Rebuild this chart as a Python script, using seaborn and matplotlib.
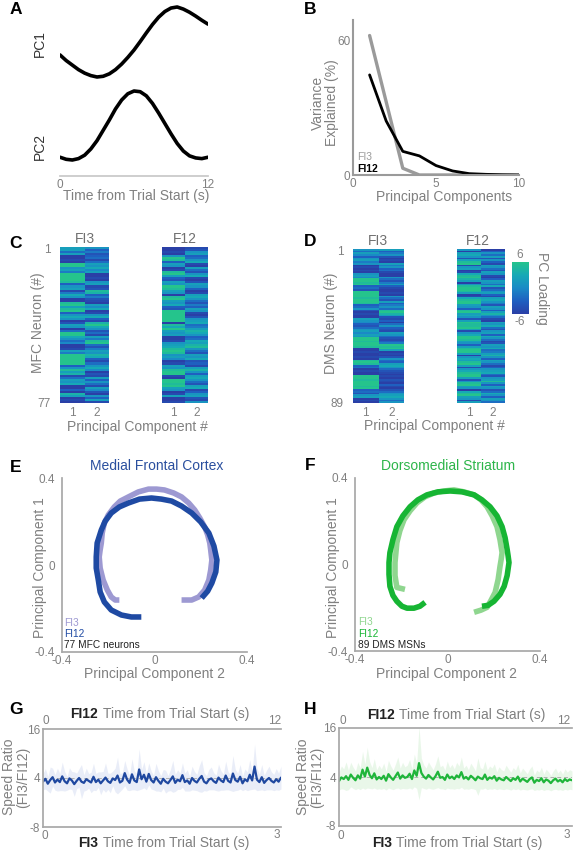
import numpy as np
import pandas as pd
import matplotlib
matplotlib.use("Agg")
import matplotlib.pyplot as plt
import seaborn as sns
from matplotlib.colors import LinearSegmentedColormap

# ---------------- DATA ----------------
# Panel A: PC time courses (0..12 s, every 0.5 s)
pc_time = [0, 0.5, 1, 1.5, 2, 2.5, 3, 3.5, 4, 4.5, 5, 5.5, 6, 6.5, 7, 7.5, 8, 8.5,
           9, 9.5, 10, 10.5, 11, 11.5, 12]
pc1_curve = [-0.37, -0.53, -0.66, -0.79, -0.89, -0.96, -1.0, -0.98, -0.91, -0.79,
             -0.63, -0.44, -0.23, 0.01, 0.26, 0.50, 0.71, 0.87, 0.97, 1.0, 0.94,
             0.85, 0.74, 0.62, 0.51]
pc2_curve = [0.04, 0.01, 0.0, 0.02, 0.07, 0.16, 0.28, 0.43, 0.58, 0.74, 0.87, 0.96,
             1.0, 0.99, 0.93, 0.82, 0.68, 0.53, 0.38, 0.24, 0.13, 0.06, 0.03, 0.02, 0.04]

# Panel B: variance explained
components = [1, 2, 3, 4, 5, 6, 7, 8, 9, 10]
var_fi3 = [62, 32.5, 3, 0, 0, 0, 0, 0, 0, 0]
var_fi12 = [44.5, 24, 10.5, 8.5, 4.2, 1.8, 0.6, 0.3, 0.1, 0.0]

# Panel C: MFC loadings (77 neurons)
mfc_fi3_pc1 = [2, 2, -2, 2, -6, -6, -5, -6, 6, 6, 1,
               2, -1, 6, 6, 6, 6, 5, -3, 1, 2, -5,
               -1, 3, 1, -6, -6, 5, 6, 2, 5, 6, -3,
               1, 3, 1, -6, -4, 2, 1, -6, -2, 6, 6,
               3, 1, -2, 0, -6, -6, -5, 2, -1, 6, 6,
               6, 6, 6, -3, 1, 5, 2, 4, -5, -2, 2,
               1, 3, -6, -6, -3, -6, 4, 2, -6, -5, -6]
mfc_fi3_pc2 = [1, -3, -1, -4, -3, -2, -5, -2, 2, 1, 3,
               0, 2, -6, -6, -5, -6, 1, 2, -5, -4, 5,
               4, -3, -1, -4, -5, -6, 2, 0, 3, -6, -5,
               1, 3, -3, -5, 4, 6, 3, 1, -4, -2, -5,
               2, -1, 5, 6, -2, -4, -1, 2, 1, 4, 3,
               -3, -5, -2, 1, 3, 0, -6, -4, -5, 2, -3,
               1, -2, -5, 2, 0, -4, -6, 1, -3, 2, -5]
mfc_fi12_pc1 = [-6, -6, -5, -6, 1, 6, 5, -3, 2, 1, -6,
                -5, 5, 6, 2, -3, -4, 2, 1, 6, 5, 2,
                1, -6, 5, 6, 2, 1, 3, -3, -4, 6, 6,
                6, 6, 6, 6, -6, 5, 3, 6, 2, 1, 2,
                -6, -6, -5, 1, 2, 3, 5, 6, 5, 1, 2,
                0, -6, -5, 2, 1, 5, 6, 6, -5, -6, 6,
                6, 5, 6, 2, 1, -6, -5, 2, -6, -6, -5]
mfc_fi12_pc2 = [-5, -4, 1, 2, -3, -2, 1, 3, -5, -6, 2,
                -2, -4, 1, 3, -5, -6, -4, 2, 1, -3, -6,
                -5, 2, 3, 1, -2, -4, -1, -3, 2, 1, -5,
                -6, -4, 1, 2, 3, -2, -1, 2, 4, 3, 1,
                -3, -2, 3, 2, 4, 5, 1, -2, -4, 2, 1,
                3, -4, -3, -5, 2, 4, 1, -3, 2, 3, 1,
                -2, -4, 2, 3, -5, -3, 1, 2, -4, -5, 1]

# Panel D: DMS loadings (89 neurons)
dms_fi3_pc1 = [1, -2, 2, 0, -3, 1, 2, -1, 1, -6, -5,
               -6, -5, -6, 1, 2, 0, 6, 6, 5, 6, -3,
               -2, -4, 6, 6, 6, 6, 5, 6, 6, 5, -3,
               -2, 1, -4, -6, -5, -6, -6, 2, 1, 0, -3,
               -4, -2, 1, 2, 0, 2, 1, 6, 6, 5, 6,
               6, 5, -6, -6, -5, -6, -6, -5, -6, 5, 6,
               5, -3, -2, -6, -5, -6, -6, 6, 6, 5, 6,
               6, 6, 5, 6, -3, -2, -4, 1, 2, -6, -5,
               -6]
dms_fi3_pc2 = [2, -3, -1, 1, -4, -6, -5, -6, 2, -1, 1,
               -3, -2, -5, -6, -6, 1, -2, -4, -1, 2, -3,
               -5, -6, -6, -5, -6, 1, -2, -4, 2, -3, -1,
               1, -2, 5, 6, 4, 2, -4, -5, -3, -6, -2,
               1, -3, -4, -5, 2, 1, -2, -4, -5, -3, -1,
               6, 5, 6, 2, -6, -5, -6, -4, 1, -2, -3,
               2, 3, 1, -2, -4, -5, -6, -5, -6, -4, -5,
               -6, -3, -5, -6, -4, -2, 1, 2, 3, 1, -2,
               1]
dms_fi12_pc1 = [1, -6, 2, 3, 1, -4, 2, 5, 6, -5, 1,
                2, -6, -5, 3, 5, 6, 4, 2, -6, 1, 5,
                6, 6, 5, 2, -6, -5, 3, 5, 6, 6, 2,
                1, -3, 5, 6, 2, 3, 1, -4, 2, 6, 5,
                5, 6, 2, -5, 1, 3, 6, 6, 5, 2, 1,
                -3, 2, 5, 6, 6, 2, -6, 1, 3, 2, 5,
                6, 2, -5, 1, 3, 5, 6, 6, 2, -4, 1,
                5, 6, 2, 1, -6, 3, 5, 6, 2, 1, -5,
                2]
dms_fi12_pc2 = [-6, -3, 1, -2, 2, -4, 1, -3, -5, 2, 1,
                -2, -4, 2, 1, -5, -6, -3, 2, 1, -2, 3,
                -4, -2, 1, 2, -3, -5, 2, 3, 1, -1, -4,
                2, 1, -3, 2, 4, 1, -2, -5, -6, 2, 1,
                3, -2, -4, 1, 2, -3, 3, 1, -2, -5, -4,
                2, 1, 3, -2, -1, 2, 4, 1, -3, 2, 1,
                -2, -5, -3, 1, 2, 3, -2, -4, 1, 2, 5,
                1, -3, 2, 1, -4, -2, 3, 1, -3, 2, 1,
                -2]

# Panel E: MFC trajectories (PC2 on x, PC1 on y)
e_fi3_pc2 = [0.117, 0.161, 0.191, 0.217, 0.235, 0.243, 0.248, 0.243, 0.239, 0.230,
             0.217, 0.196, 0.174, 0.148, 0.117, 0.083, 0.043, 0.009, -0.026, -0.070,
             -0.113, -0.148, -0.174, -0.200, -0.217, -0.226, -0.230, -0.235, -0.239,
             -0.235, -0.222, -0.204, -0.187, -0.170, -0.152]
e_fi3_pc1 = [-0.161, -0.161, -0.147, -0.115, -0.069, -0.023, 0.023, 0.069, 0.101, 0.138,
             0.175, 0.216, 0.253, 0.285, 0.313, 0.331, 0.345, 0.349, 0.349, 0.336,
             0.313, 0.294, 0.267, 0.230, 0.193, 0.147, 0.101, 0.069, 0.037,
             -0.014, -0.069, -0.115, -0.147, -0.161, -0.161]
e_fi12_pc2 = [-0.057, -0.100, -0.143, -0.187, -0.217, -0.235, -0.243, -0.252, -0.252,
              -0.248, -0.230, -0.213, -0.187, -0.152, -0.113, -0.065, -0.013, 0.030,
              0.074, 0.117, 0.161, 0.200, 0.235, 0.257, 0.270, 0.265, 0.248, 0.230, 0.204]
e_fi12_pc1 = [-0.239, -0.239, -0.230, -0.207, -0.170, -0.124, -0.069, -0.014, 0.037,
              0.101, 0.161, 0.202, 0.239, 0.267, 0.285, 0.303, 0.308, 0.303,
              0.294, 0.271, 0.239, 0.198, 0.147, 0.087, 0.023, -0.032, -0.083, -0.120, -0.152]

# Panel F: DMS trajectories
f_fi3_pc2 = [-0.184, -0.219, -0.227, -0.227, -0.223, -0.219, -0.206, -0.188, -0.162,
             -0.132, -0.097, -0.058, -0.015, 0.028, 0.071, 0.115, 0.145, 0.171, 0.193,
             0.214, 0.227, 0.236, 0.232, 0.227, 0.219, 0.206, 0.188, 0.171, 0.145, 0.115]
f_fi3_pc1 = [-0.115, -0.106, -0.051, 0.009, 0.055, 0.101, 0.156, 0.207, 0.248,
             0.285, 0.313, 0.331, 0.340, 0.345, 0.336, 0.322, 0.299, 0.267, 0.225,
             0.175, 0.115, 0.055, 0.023, -0.009, -0.069, -0.129, -0.166, -0.198, -0.211, -0.221]
f_fi12_pc2 = [0.149, 0.175, 0.201, 0.227, 0.245, 0.258, 0.266, 0.262, 0.258, 0.249,
              0.236, 0.214, 0.184, 0.149, 0.115, 0.063, 0.011, -0.041, -0.089, -0.128,
              -0.162, -0.193, -0.219, -0.236, -0.249, -0.253, -0.253, -0.249, -0.236,
              -0.219, -0.197, -0.175, -0.145, -0.119, -0.097]
f_fi12_pc1 = [-0.193, -0.189, -0.170, -0.138, -0.101, -0.051, 0.009, 0.041, 0.069, 0.124,
              0.175, 0.225, 0.267, 0.299, 0.322, 0.336, 0.340, 0.336, 0.322, 0.299,
              0.267, 0.225, 0.175, 0.115, 0.055, 0.009, -0.046, -0.101, -0.143,
              -0.170, -0.193, -0.202, -0.202, -0.193, -0.175]

# Panels G/H: speed ratio (mean and spread)
g_ratio = [3.1, 3.8, 2.6, 3.5, 4.2, 2.9, 3.6, 3.0, 4.4, 3.2,
           2.7, 3.9, 3.4, 2.5, 3.3, 4.0, 3.1, 2.8, 3.7, 3.3,
           2.9, 4.3, 3.0, 3.6, 2.7, 3.4, 4.1, 3.2, 2.8, 3.9,
           3.5, 4.6, 2.9, 3.3, 5.2, 3.6, 2.8, 4.9, 3.4, 3.0,
           6.1, 3.7, 4.8, 3.1, 5.0, 3.5, 2.9, 4.2, 3.3, 2.6,
           3.8, 3.1, 2.7, 3.5, 4.4, 2.8, 3.6, 3.2, 4.7, 3.0,
           3.4, 2.6, 4.0, 3.3, 2.9, 3.8, 4.5, 3.1, 2.7, 3.6,
           3.9, 3.2, 2.8, 4.1, 3.4, 3.0, 4.6, 3.3, 2.9, 5.1,
           3.5, 3.1, 4.3, 2.7, 3.7, 3.2, 4.8, 3.4, 6.8, 3.6,
           3.0, 4.2, 2.8, 3.5, 4.0, 3.3, 2.9, 3.7, 3.1, 4.1]
g_spread = [2.0, 2.5, 1.8, 3.2, 2.2, 1.9, 2.8, 2.1, 3.5, 2.4,
            1.7, 2.6, 2.2, 3.0, 1.9, 2.3, 4.2, 2.0, 2.7, 1.8,
            2.5, 3.3, 2.1, 1.9, 2.8, 2.2, 3.6, 2.0, 2.4, 1.8,
            2.9, 4.5, 2.2, 2.0, 3.1, 2.6, 1.9, 3.8, 2.3, 2.1,
            5.0, 2.4, 3.2, 2.0, 2.7, 2.2, 1.8, 3.4, 2.5, 2.0,
            2.3, 2.8, 1.9, 2.6, 3.9, 2.1, 2.4, 2.0, 3.0, 2.2,
            2.6, 1.8, 2.9, 2.3, 2.0, 3.2, 4.0, 2.2, 1.9, 2.5,
            2.8, 2.1, 1.9, 3.3, 2.4, 2.0, 3.5, 2.2, 2.0, 4.4,
            2.6, 2.1, 3.0, 1.8, 2.5, 2.3, 3.7, 2.2, 5.5, 2.7,
            2.0, 3.1, 1.9, 2.4, 2.9, 2.2, 2.0, 2.6, 2.1, 2.8]
h_ratio = [3.0, 3.9, 3.5, 4.2, 3.3, 4.6, 3.8, 3.2, 4.4, 3.6,
           5.8, 4.1, 6.3, 4.5, 3.7, 4.9, 3.4, 4.0, 3.5, 4.3,
           3.1, 4.7, 3.9, 3.3, 4.2, 5.1, 3.6, 4.4, 3.8, 4.0,
           4.8, 3.5, 5.6, 4.3, 7.4, 5.0, 4.1, 3.6, 4.5, 3.9,
           3.4, 4.2, 5.3, 3.8, 4.0, 3.3, 4.6, 3.7, 4.1, 3.5,
           4.4, 3.9, 5.2, 3.6, 4.0, 3.4, 4.3, 3.8, 3.2, 4.1,
           3.7, 3.5, 4.6, 3.3, 3.9, 3.6, 4.2, 3.1, 3.8, 3.4,
           3.2, 4.0, 3.5, 3.0, 3.7, 3.3, 4.1, 2.9, 3.6, 3.2,
           2.8, 3.5, 3.9, 2.6, 3.3, 3.0, 3.7, 2.7, 3.4, 3.1,
           2.5, 3.2, 3.6, 2.9, 3.3, 2.7, 3.5, 3.0, 3.4, 3.2]
h_spread = [2.2, 2.8, 2.5, 3.5, 2.4, 3.0, 2.6, 2.3, 3.2, 2.7,
            4.5, 3.1, 5.0, 3.3, 2.6, 3.6, 2.4, 2.9, 2.5, 3.1,
            2.3, 3.4, 2.8, 2.4, 3.0, 3.8, 2.6, 3.2, 2.7, 2.9,
            3.5, 2.5, 4.0, 3.1, 9.0, 3.6, 2.9, 2.6, 3.2, 2.8,
            2.4, 3.0, 3.9, 2.7, 2.9, 2.4, 3.3, 2.6, 3.0, 2.5,
            3.2, 2.8, 3.7, 2.6, 2.9, 2.4, 3.1, 2.7, 2.3, 4.6,
            2.6, 2.5, 3.3, 2.4, 2.8, 2.6, 3.0, 2.2, 2.7, 2.4,
            2.3, 2.9, 2.5, 2.2, 2.6, 2.4, 3.0, 2.1, 2.6, 2.3,
            2.0, 2.5, 2.8, 1.9, 2.4, 2.2, 2.7, 2.0, 2.5, 2.2,
            1.9, 2.3, 2.6, 2.1, 2.4, 2.0, 2.5, 2.2, 2.4, 2.3]

# ---------------- STYLE ----------------
W, H = 574, 852
sns.set_theme(style="white")
plt.rcParams['font.family'] = ['Liberation Sans', 'DejaVu Sans']
GRAY_T = '#808080'
GRAY_S = '#a8a8a8'
TICK_FS = 8.5
LAB_FS = 10

fig = plt.figure(figsize=(W / 100, H / 100), dpi=100)


def axpx(x0, y0, x1, y1):
    return fig.add_axes([x0 / W, 1 - y1 / H, (x1 - x0) / W, (y1 - y0) / H])


def ftext(x, y, s, **kw):
    kw.setdefault('ha', 'center')
    kw.setdefault('va', 'center')
    fig.text(x / W, 1 - y / H, s, **kw)


def clean(ax, keep=()):
    for k, sp in ax.spines.items():
        sp.set_visible(k in keep)
        sp.set_color(GRAY_S)
    ax.tick_params(length=0, labelsize=TICK_FS, labelcolor=GRAY_T, pad=2)
    ax.set_facecolor('none')
    ax.grid(False)


def letter(x, y, s):
    ftext(x, y, s, fontsize=12.5, fontweight='bold', color='black')


# ---------------- Panel A ----------------
a1 = axpx(60, 3, 208, 80)
sns.lineplot(x=pc_time, y=pc1_curve, ax=a1, color='black', linewidth=2.6)
a1.set_xlim(0, 12)
a1.set_ylim(-1.086, 1.114)
clean(a1)
a1.set_xticks([]); a1.set_yticks([])
a1.set_xlabel(''); a1.set_ylabel('')

a2 = axpx(60, 85, 208, 176)
sns.lineplot(x=pc_time, y=pc2_curve, ax=a2, color='black', linewidth=2.6)
a2.set_xlim(0, 12)
a2.set_ylim(-0.232, 1.087)
clean(a2, keep=('bottom',))
a2.spines['bottom'].set_color('#c8c8c8')
a2.set_yticks([])
a2.set_xticks([0, 12])
a2.set_xticklabels(['0', '12'])
a2.set_xlabel(''); a2.set_ylabel('')
ftext(40, 44, 'PC1', rotation=90, fontsize=LAB_FS, color='#333333')
ftext(40, 146, 'PC2', rotation=90, fontsize=LAB_FS, color='#333333')
ftext(136, 196, 'Time from Trial Start (s)', fontsize=LAB_FS, color=GRAY_T)
letter(16, 9, 'A')

# ---------------- Panel B ----------------
b = axpx(353, 20, 519, 175)
sns.lineplot(x=components, y=var_fi3, ax=b, color='#9a9a9a', linewidth=2.4)
sns.lineplot(x=components, y=var_fi12, ax=b, color='black', linewidth=2.0)
b.set_xlim(0, 10)
b.set_ylim(0, 68.9)
clean(b, keep=('left', 'bottom'))
for sp in ('left', 'bottom'):
    b.spines[sp].set_linewidth(1.5)
    b.spines[sp].set_color('#9a9a9a')
b.set_xticks([0, 5, 10]); b.set_yticks([0, 60])
b.set_xlabel(''); b.set_ylabel('')
ftext(325, 103, 'Variance\nExplained (%)', rotation=90, fontsize=LAB_FS,
      color=GRAY_T, linespacing=0.95)
ftext(444, 197, 'Principal Components', fontsize=LAB_FS, color=GRAY_T)
ftext(357, 157, 'FI3', ha='left', fontsize=7.5, color='#9a9a9a')
ftext(357, 169, 'FI12', ha='left', fontsize=7.5, color='black', fontweight='bold')
letter(310, 10, 'B')

# ---------------- Panels C, D (heatmaps) ----------------
cmap = LinearSegmentedColormap.from_list(
    'pcload', ['#2a3fa6', '#1f5fc0', '#1a8ac6', '#16a9b6', '#25c48c'])


def heat(box, c1, c2, show_y):
    ax = axpx(*box)
    df = pd.DataFrame({'1': c1, '2': c2})
    sns.heatmap(df, ax=ax, cmap=cmap, vmin=-6, vmax=6, cbar=False,
                xticklabels=['1', '2'], yticklabels=False, linewidths=0)
    ax.tick_params(length=0, labelsize=TICK_FS, labelcolor=GRAY_T, pad=3)
    ax.set_xticklabels(['1', '2'], rotation=0)
    n = len(c1)
    if show_y:
        ax.set_yticks([0.6, n - 0.3])
        ax.set_yticklabels(['1', str(n)], rotation=0)
        ax.tick_params(axis='y', pad=7)
    else:
        ax.set_yticks([])
    ax.set_xlabel(''); ax.set_ylabel('')
    return ax


heat((60, 247, 109, 403), mfc_fi3_pc1, mfc_fi3_pc2, True)
heat((162, 247, 208, 403), mfc_fi12_pc1, mfc_fi12_pc2, False)
ftext(85, 239, 'FI3', fontsize=LAB_FS, color='#707070')
ftext(185, 239, 'F12', fontsize=LAB_FS, color='#707070')
ftext(38, 323, 'MFC Neuron (#)', rotation=90, fontsize=LAB_FS, color=GRAY_T)
ftext(137, 427, 'Principal Component #', fontsize=LAB_FS, color=GRAY_T)
letter(16, 244, 'C')

heat((353, 249, 404, 403), dms_fi3_pc1, dms_fi3_pc2, True)
hd = heat((457, 249, 505, 403), dms_fi12_pc1, dms_fi12_pc2, False)
ftext(378, 241, 'FI3', fontsize=LAB_FS, color='#707070')
ftext(478, 241, 'F12', fontsize=LAB_FS, color='#707070')
ftext(331, 323, 'DMS Neuron (#)', rotation=90, fontsize=LAB_FS, color=GRAY_T)
ftext(434, 426, 'Principal Component #', fontsize=LAB_FS, color=GRAY_T)
letter(310, 242, 'D')

cax = axpx(512, 262, 529, 314)
cb = fig.colorbar(hd.collections[0], cax=cax)
cb.outline.set_visible(False)
cax.set_yticks([])
ftext(520, 255, '6', fontsize=TICK_FS, color=GRAY_T)
ftext(520, 322, '-6', fontsize=TICK_FS, color=GRAY_T)
ftext(542, 288, 'PC Loading', rotation=270, fontsize=LAB_FS, color=GRAY_T)

# ---------------- Panels E, F (trajectories) ----------------


def traj(box, x3, y3, x12, y12, c3, c12):
    ax = axpx(*box)
    sns.lineplot(x=x3, y=y3, ax=ax, sort=False, estimator=None, color=c3,
                 linewidth=4.0, solid_capstyle='butt', solid_joinstyle='round')
    sns.lineplot(x=x12, y=y12, ax=ax, sort=False, estimator=None, color=c12,
                 linewidth=4.0, solid_capstyle='butt', solid_joinstyle='round')
    ax.set_xlim(-0.4, 0.4); ax.set_ylim(-0.4, 0.4)
    clean(ax, keep=('left', 'bottom'))
    ax.set_xticks([-0.4, 0, 0.4]); ax.set_yticks([-0.4, 0, 0.4])
    ax.set_xticklabels(['-0.4', '0', '0.4']); ax.set_yticklabels(['-0.4', '0', '0.4'])
    ax.tick_params(axis='y', pad=5)
    ax.set_xlabel(''); ax.set_ylabel('')
    return ax


traj((62, 478, 247, 652), e_fi3_pc2, e_fi3_pc1, e_fi12_pc2, e_fi12_pc1,
     '#9d99d2', '#1f4aa3')
ftext(157, 466, 'Medial Frontal Cortex', fontsize=LAB_FS, color='#2a4f9e')
ftext(40, 568, 'Principal Component 1', rotation=90, fontsize=LAB_FS, color=GRAY_T)
ftext(154, 674, 'Principal Component 2', fontsize=LAB_FS, color=GRAY_T)
ftext(64, 623, 'FI3', ha='left', fontsize=7.3, color='#9d99d2')
ftext(64, 634, 'FI12', ha='left', fontsize=7.3, color='#1f4aa3')
ftext(64, 645, '77 MFC neurons', ha='left', fontsize=7.3, color='#222222')
letter(16, 467, 'E')

traj((355, 478, 540, 651), f_fi3_pc2, f_fi3_pc1, f_fi12_pc2, f_fi12_pc1,
     '#8fd68f', '#16b533')
ftext(448, 466, 'Dorsomedial Striatum', fontsize=LAB_FS, color='#2db54a')
ftext(333, 568, 'Principal Component 1', rotation=90, fontsize=LAB_FS, color=GRAY_T)
ftext(447, 674, 'Principal Component 2', fontsize=LAB_FS, color=GRAY_T)
ftext(358, 622, 'FI3', ha='left', fontsize=7.3, color='#8fd68f')
ftext(358, 634, 'FI12', ha='left', fontsize=7.3, color='#16b533')
ftext(358, 645, '89 DMS MSNs', ha='left', fontsize=7.3, color='#222222')
letter(310, 466, 'F')

# ---------------- Panels G, H (speed ratio) ----------------


def speed(box, ratio, spread, c_line, c_band, ylab_x, top_y, bot_y,
          top_b, top_t, bot_b, bot_t, top_ticks_x, bot_ticks_x):
    ax = axpx(*box)
    t = np.linspace(0, 3, len(ratio))
    r = np.array(ratio); s = np.array(spread)
    ax.fill_between(t, r - s, r + s, color=c_band, alpha=0.22, linewidth=0)
    ax.axhline(4, color='#b0b0b0', linestyle='--', linewidth=0.7, dashes=(4, 3))
    sns.lineplot(x=t, y=r, ax=ax, color=c_line, linewidth=1.6)
    ax.set_xlim(0, 3); ax.set_ylim(-8, 16)
    clean(ax, keep=('left', 'bottom', 'top'))
    ax.set_xticks([]); ax.set_yticks([-8, 4, 16])
    ax.set_yticklabels(['-8', '4', '16'])
    ax.set_xlabel(''); ax.set_ylabel('')
    # secondary (FI12) time axis labels on top, FI3 axis labels at bottom
    ftext(top_ticks_x[0], 721, '0', fontsize=TICK_FS, color=GRAY_T)
    ftext(top_ticks_x[1], 721, '12', fontsize=TICK_FS, color=GRAY_T)
    ftext(bot_ticks_x[0], 836, '0', fontsize=TICK_FS, color=GRAY_T)
    ftext(bot_ticks_x[1], 835, '3', fontsize=TICK_FS, color=GRAY_T)
    ftext(ylab_x, 777, 'Speed Ratio\n(FI3/FI12)', rotation=90, fontsize=LAB_FS,
          color=GRAY_T, linespacing=0.95)
    ftext(top_b, top_y, 'FI12', ha='right', fontsize=LAB_FS, fontweight='bold',
          color='#222222')
    ftext(top_t, top_y, 'Time from Trial Start (s)', ha='left', fontsize=LAB_FS,
          color=GRAY_T)
    ftext(bot_b, bot_y, 'FI3', ha='right', fontsize=LAB_FS, fontweight='bold',
          color='#222222')
    ftext(bot_t, bot_y, 'Time from Trial Start (s)', ha='left', fontsize=LAB_FS,
          color=GRAY_T)
    return ax


speed((43, 729, 281, 827), g_ratio, g_spread, '#1f48a0', '#9fb0e0', 16, 714, 843,
      98, 103, 98, 103, (46, 275), (45, 277))
letter(16, 709, 'G')
speed((339, 728, 572, 826), h_ratio, h_spread, '#1fb53a', '#9fdc9f', 310, 715, 843,
      395, 399, 392, 396, (343, 564), (341, 567))
letter(310, 709, 'H')

fig.savefig('out.png', dpi=100)
